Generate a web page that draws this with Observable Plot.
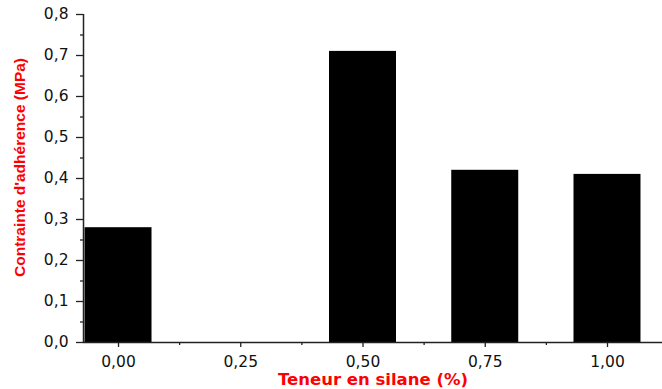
<!DOCTYPE html>
<html><head><meta charset="utf-8">
<script src="https://cdn.jsdelivr.net/npm/d3@7"></script>
<script src="https://cdn.jsdelivr.net/npm/@observablehq/plot@0.6"></script>
<style>body{margin:0;background:#fff}</style>
</head><body><div id="chart"></div>
<script>
const silane = [0.00, 0.25, 0.50, 0.75, 1.00];
const contrainte = [0.28, 0, 0.71, 0.42, 0.41];
const xTicks = [0, 0.25, 0.5, 0.75, 1];
const xMinor = [0.125, 0.375, 0.625, 0.875];
const yTicks = [0, 0.1, 0.2, 0.3, 0.4, 0.5, 0.6, 0.7, 0.8];
const yMinor = [0.05, 0.15, 0.25, 0.35, 0.45, 0.55, 0.65, 0.75];
const xLabel = "Teneur en silane (%)";
const yLabel = "Contrainte d'adhérence (MPa)";

const xDomain = [-0.0716, 1.1125];
const halfBar = 0.0685;
const fr1 = v => d3.format(".1f")(v).replace(".", ",");
const fr2 = v => d3.format(".2f")(v).replace(".", ",");
const data = silane.map((x, i) => ({x, y: contrainte[i]}));
const axisColor = "#222";

const chart = Plot.plot({
  width: 662,
  height: 389,
  marginLeft: 83,
  marginRight: 0,
  marginTop: 14,
  marginBottom: 47,
  style: {fontFamily: "DejaVu Sans", fontSize: "15.5px", color: "#111", background: "#fff"},
  x: {type: "linear", domain: xDomain},
  y: {domain: [0, 0.8]},
  marks: [
    Plot.rectY(data, {x1: d => d.x - halfBar, x2: d => d.x + halfBar, y1: 0, y2: "y", fill: "black"}),
    Plot.axisY(yTicks, {tickSize: 7, tickPadding: 8, tickFormat: fr1, label: null, stroke: axisColor, strokeWidth: 1.3}),
    Plot.axisY(yMinor, {tickSize: 3, tickFormat: () => "", label: null, stroke: axisColor, strokeWidth: 1.3}),
    Plot.axisX(xTicks, {tickSize: 5, tickPadding: 8, tickFormat: fr2, label: null, stroke: axisColor, strokeWidth: 1.3}),
    Plot.axisX(xMinor, {tickSize: 3, tickFormat: () => "", label: null, stroke: axisColor, strokeWidth: 1.3}),
    Plot.ruleY([0], {stroke: axisColor, strokeWidth: 1.5}),
    Plot.ruleX([xDomain[0]], {stroke: axisColor, strokeWidth: 1.5}),
    Plot.text([yLabel], {text: d => d, frameAnchor: "left", textAnchor: "middle", lineAnchor: "middle",
      rotate: -90, dx: -63, dy: -11,
      fill: "red", fontWeight: "bold", fontSize: 15.5, fontFamily: "Liberation Sans"}),
    Plot.text([xLabel], {text: d => d, frameAnchor: "bottom", textAnchor: "middle", lineAnchor: "middle", dy: 37.5,
      fill: "red", fontWeight: "bold", fontSize: 16.5, fontFamily: "DejaVu Sans"})
  ]
});
document.getElementById("chart").append(chart);
</script>
</body></html>
